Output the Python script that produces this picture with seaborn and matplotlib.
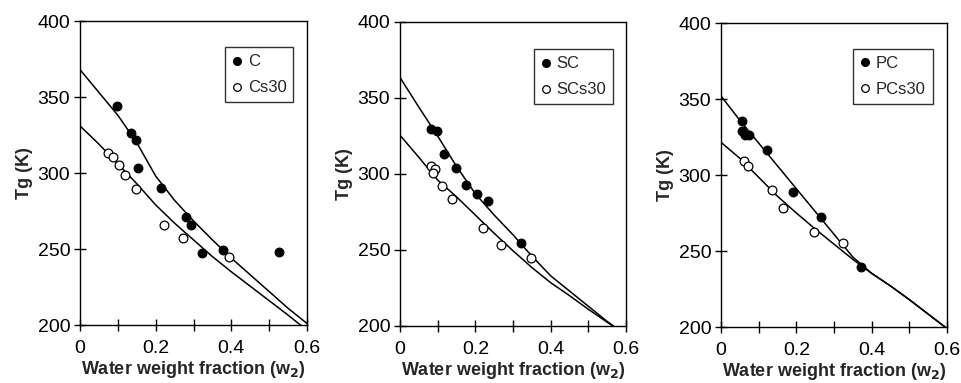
import numpy as np
import pandas as pd
import matplotlib
matplotlib.use("Agg")
import matplotlib.pyplot as plt
from matplotlib.lines import Line2D
import seaborn as sns

# ---------------- data ----------------
# Panel 1: C / Cs30
c_x = [0.097, 0.134, 0.148, 0.153, 0.214, 0.281, 0.294, 0.323, 0.379, 0.526]
c_y = [344.1, 326.3, 321.5, 303.0, 290.2, 271.1, 265.6, 247.3, 249.3, 248.2]
cs30_x = [0.075, 0.086, 0.104, 0.119, 0.147, 0.221, 0.273, 0.394]
cs30_y = [313.3, 310.7, 305.2, 298.6, 289.3, 265.6, 257.2, 244.7]

# Panel 2: SC / SCs30
sc_x = [0.081, 0.097, 0.116, 0.148, 0.176, 0.204, 0.233, 0.321]
sc_y = [329.5, 328.5, 313.0, 303.8, 292.8, 286.6, 282.0, 254.4]
scs30_x = [0.081, 0.092, 0.088, 0.111, 0.137, 0.221, 0.269, 0.349]
scs30_y = [305.0, 303.0, 300.6, 292.0, 283.8, 264.3, 253.0, 244.5]

# Panel 3: PC / PCs30
pc_x = [0.057, 0.055, 0.065, 0.075, 0.122, 0.192, 0.266, 0.371]
pc_y = [335.5, 329.2, 326.6, 326.6, 316.4, 288.9, 272.5, 239.6]
pcs30_x = [0.060, 0.071, 0.135, 0.164, 0.247, 0.325]
pcs30_y = [309.0, 306.2, 290.0, 278.0, 262.2, 255.0]

# Fitted curves (read at w2 = 0, 0.05, ..., 0.6)
fit_x = [0.0, 0.05, 0.10, 0.15, 0.20, 0.25, 0.30, 0.35, 0.40, 0.45, 0.50, 0.55, 0.60]
c_fit = [368, 353, 338, 320, 298, 282, 268.5, 256, 244, 233, 222, 211, 201]
cs30_fit = [331, 319, 306, 293, 279, 267, 256, 245, 235, 225.5, 216, 206.5, 196.5]
sc_fit = [363.5, 344, 325, 305, 287, 273, 260, 246, 233, 223, 213, 203, 194]
scs30_fit = [325.5, 311, 296, 285, 273, 261, 249.5, 238.5, 228.5, 220, 211, 202.5, 194]
pc_fit = [352, 336, 321, 306, 291, 276, 261, 246, 235.3, 227, 218, 208.5, 199]
pcs30_fit = [321.5, 311, 298.5, 286, 275, 264.5, 254.5, 244.5, 235.3, 227, 218, 208.5, 199]

panels = [
    ("C", "Cs30", c_x, c_y, cs30_x, cs30_y, c_fit, cs30_fit),
    ("SC", "SCs30", sc_x, sc_y, scs30_x, scs30_y, sc_fit, scs30_fit),
    ("PC", "PCs30", pc_x, pc_y, pcs30_x, pcs30_y, pc_fit, pcs30_fit),
]
x_ticks = [0, 0.2, 0.4, 0.6]
x_tick_labels = ["0", "0.2", "0.4", "0.6"]
y_ticks = [200, 250, 300, 350, 400]

# ---------------- drawing ----------------
sns.set_theme(style="white")
plt.rcParams["font.family"] = ["Liberation Sans", "DejaVu Sans"]

fig = plt.figure(figsize=(9.61, 3.83), dpi=100)
positions = [
    [80 / 961, 1 - 325 / 383, 227 / 961, 304 / 383],
    [400 / 961, 1 - 326 / 383, 226 / 961, 304 / 383],
    [721 / 961, 1 - 327 / 383, 226 / 961, 304 / 383],
]
legend_anchor = [(0.94, 0.913), (0.944, 0.91), (0.937, 0.915)]

for pos, anchor, (n1, n2, x1, y1, x2, y2, f1, f2) in zip(positions, legend_anchor, panels):
    ax = fig.add_axes(pos)
    fit_df = pd.DataFrame({"x": fit_x * 2, "y": f1 + f2,
                           "s": [n1] * len(fit_x) + [n2] * len(fit_x)})
    sns.lineplot(data=fit_df, x="x", y="y", units="s", estimator=None,
                 color="black", lw=1.1, ax=ax, legend=False, zorder=2)
    sns.scatterplot(x=x1, y=y1, marker="o", s=40, color="black",
                    edgecolor="black", linewidth=0.8, ax=ax, zorder=3)
    sns.scatterplot(x=x2, y=y2, marker="o", s=40, facecolor="white",
                    edgecolor="black", linewidth=0.9, ax=ax, zorder=3)
    ax.set_xlim(0, 0.6)
    ax.set_ylim(200, 400)
    ax.set_xticks(x_ticks)
    ax.set_xticklabels(x_tick_labels)
    ax.set_xticks([0.1, 0.3, 0.5], minor=True)
    ax.set_yticks(y_ticks)
    ax.tick_params(axis="both", which="both", direction="inout", length=8,
                   width=1.0, color="black", labelsize=14, labelcolor="black",
                   bottom=True, left=True, top=False, right=False)
    ax.tick_params(axis="x", pad=7)
    ax.tick_params(axis="y", pad=3)
    for sp in ax.spines.values():
        sp.set_visible(True)
        sp.set_color("black")
        sp.set_linewidth(1.0)
    ax.set_xlabel(r"Water weight fraction (w$_\mathbf{2}$)", fontsize=13,
                  fontweight="bold", labelpad=1)
    ax.set_ylabel("Tg (K)", fontsize=13, fontweight="bold", labelpad=3)
    handles = [
        Line2D([], [], ls="none", marker="o", ms=5.5, mfc="black", mec="black"),
        Line2D([], [], ls="none", marker="o", ms=5.5, mfc="white", mec="black", mew=0.9),
    ]
    leg = ax.legend(handles, [n1, n2], loc="upper right",
                    bbox_to_anchor=anchor, fontsize=12, frameon=True,
                    fancybox=False, edgecolor="black", handlelength=0.6,
                    handletextpad=0.34, borderpad=0.42, labelspacing=0.66,
                    borderaxespad=0.0)
    leg.get_frame().set_linewidth(1.0)

fig.savefig("out.png", dpi=100, facecolor="white")
